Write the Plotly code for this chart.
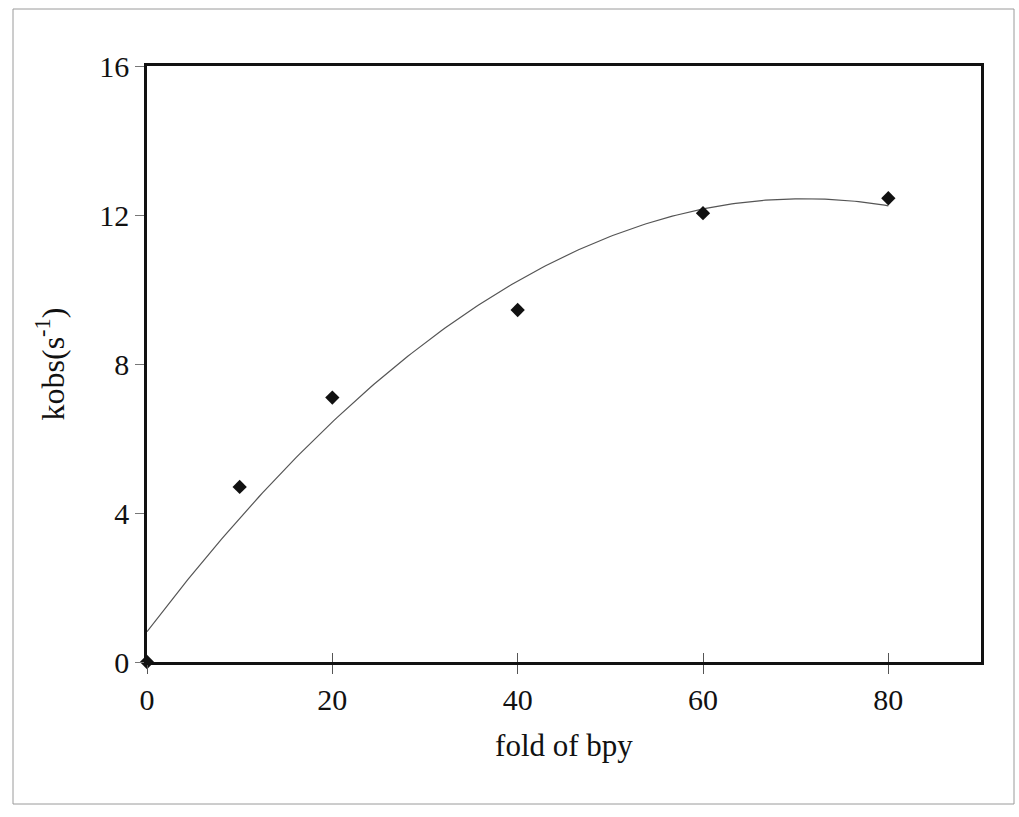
import numpy as np
import plotly.graph_objects as go

# Measured rate constants vs. bpy excess
fold_bpy = [0, 10, 20, 40, 60, 80]
kobs = [0.0, 4.7, 7.1, 9.45, 12.05, 12.45]

x_ticks = [0, 20, 40, 60, 80]
y_ticks = [0, 4, 8, 12, 16]

# Second-order polynomial trendline through the measurements
coef = np.polyfit(fold_bpy, kobs, 2)
x_fit = np.linspace(min(fold_bpy), max(fold_bpy), 200)
y_fit = np.polyval(coef, x_fit)

W, H = 1019, 817
L, R, T, B = 147, 38, 66, 155
pw, ph = W - L - R, H - T - B

FONT = "Liberation Serif, Times New Roman, serif"

fig = go.Figure()
fig.add_trace(go.Scatter(
    x=x_fit, y=y_fit, mode="lines",
    line=dict(color="#555555", width=1.2),
    hoverinfo="skip", showlegend=False,
))
# transparent copy on the overlaid axis so its inner tick halves get drawn
fig.add_trace(go.Scatter(
    x=fold_bpy, y=kobs, mode="markers", xaxis="x2", yaxis="y",
    marker=dict(size=1, opacity=0), hoverinfo="skip", showlegend=False,
))
fig.add_trace(go.Scatter(
    x=fold_bpy, y=kobs, mode="markers",
    marker=dict(symbol="diamond", size=11, color="#111111"),
    showlegend=False, cliponaxis=False,
))


def px_x(p):
    return (p - L) / pw


def px_y(p):
    return (H - B - p) / ph


fig.update_layout(
    width=W, height=H,
    margin=dict(l=L, r=R, t=T, b=B),
    paper_bgcolor="white", plot_bgcolor="white",
    font=dict(family=FONT, size=30, color="#111111"),
    xaxis=dict(
        range=[0, 90], tickvals=x_ticks, ticktext=[str(v) for v in x_ticks],
        showgrid=False, zeroline=False,
        showline=True, linecolor="#111111", linewidth=2.5, mirror=True,
        ticks="outside", ticklen=9, tickwidth=1, tickcolor="#555555",
        tickfont=dict(family=FONT, size=30),
        title=dict(text="fold of bpy", font=dict(family=FONT, size=31), standoff=20),
    ),
    xaxis2=dict(
        range=[0, 90], tickvals=x_ticks, overlaying="x", side="bottom",
        showticklabels=False, showgrid=False, zeroline=False, showline=False,
        ticks="inside", ticklen=9, tickwidth=1, tickcolor="#555555",
    ),
    yaxis=dict(
        range=[0, 16], tickvals=y_ticks, ticktext=[str(v) for v in y_ticks],
        showgrid=False, zeroline=False,
        showline=True, linecolor="#111111", linewidth=2.5, mirror=True,
        ticks="outside", ticklen=9, tickwidth=1, tickcolor="#777777",
        tickfont=dict(family=FONT, size=30),
        title=dict(text="kobs(s<sup>-1</sup>)", font=dict(family=FONT, size=32), standoff=26),
    ),
    shapes=[
        dict(type="rect", xref="paper", yref="paper",
             x0=px_x(13), x1=px_x(1014), y0=px_y(804), y1=px_y(9),
             line=dict(color="#9a9a9a", width=1), layer="below"),
    ],
)

fig.write_html("out.html")
